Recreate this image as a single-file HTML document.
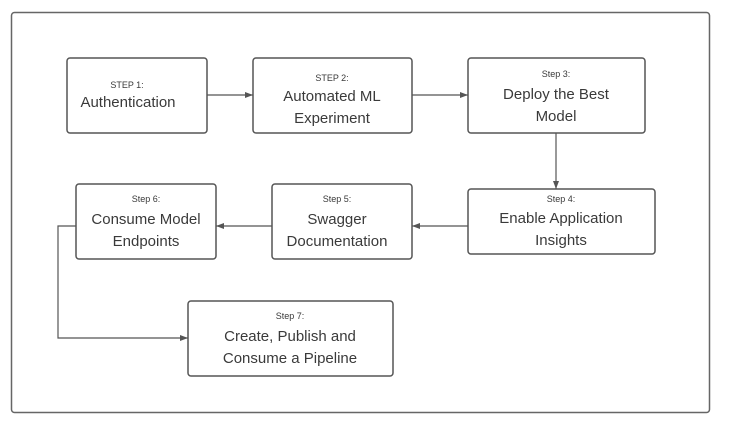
<!DOCTYPE html>
<html><head><style>body{margin:0;background:#fff}svg{display:block}</style></head><body>
<svg width="729" height="427" viewBox="0 0 729 427" xmlns="http://www.w3.org/2000/svg" font-family="Liberation Sans, sans-serif" fill="#3a3a3a">
<defs><marker id="a" markerWidth="8" markerHeight="6" refX="8" refY="3" orient="auto" markerUnits="userSpaceOnUse"><path d="M0,0L8,3L0,6z" fill="#555"/></marker></defs>
<rect x="11.5" y="12.5" width="698" height="400" rx="3" fill="none" stroke="#666" stroke-width="1.5"/>
<g fill="#fff" stroke="#555" stroke-width="1.5">
<rect x="67" y="58" width="140" height="75" rx="3"/>
<rect x="253" y="58" width="159" height="75" rx="3"/>
<rect x="468" y="58" width="177" height="75" rx="3"/>
<rect x="468" y="189" width="187" height="65" rx="3"/>
<rect x="272" y="184" width="140" height="75" rx="3"/>
<rect x="76" y="184" width="140" height="75" rx="3"/>
<rect x="188" y="301" width="205" height="75" rx="3"/>
</g>
<g stroke="#555" stroke-width="1.2" fill="none" marker-end="url(#a)">
<line x1="207" y1="95" x2="253" y2="95"/>
<line x1="412" y1="95" x2="468" y2="95"/>
<line x1="556" y1="133" x2="556" y2="189"/>
<line x1="468" y1="226" x2="412" y2="226"/>
<line x1="272" y1="226" x2="216" y2="226"/>
<path d="M76,226H58V338H188"/>
</g>
<g text-anchor="middle">
<text x="127" y="88" font-size="9">STEP 1:</text>
<text x="128" y="107" font-size="15">Authentication</text>
<text x="332" y="81" font-size="9">STEP 2:</text>
<text x="332" y="101" font-size="15">Automated ML</text>
<text x="332" y="123" font-size="15">Experiment</text>
<text x="556" y="77" font-size="9">Step 3:</text>
<text x="556" y="99" font-size="15">Deploy the Best</text>
<text x="556" y="121" font-size="15">Model</text>
<text x="561" y="202" font-size="9">Step 4:</text>
<text x="561" y="223" font-size="15">Enable Application</text>
<text x="561" y="245" font-size="15">Insights</text>
<text x="337" y="202" font-size="9">Step 5:</text>
<text x="337" y="224" font-size="15">Swagger</text>
<text x="337" y="246" font-size="15">Documentation</text>
<text x="146" y="202" font-size="9">Step 6:</text>
<text x="146" y="224" font-size="15">Consume Model</text>
<text x="146" y="246" font-size="15">Endpoints</text>
<text x="290" y="319" font-size="9">Step 7:</text>
<text x="290" y="341" font-size="15">Create, Publish and</text>
<text x="290" y="363" font-size="15">Consume a Pipeline</text>
</g>
</svg>
</body></html>
